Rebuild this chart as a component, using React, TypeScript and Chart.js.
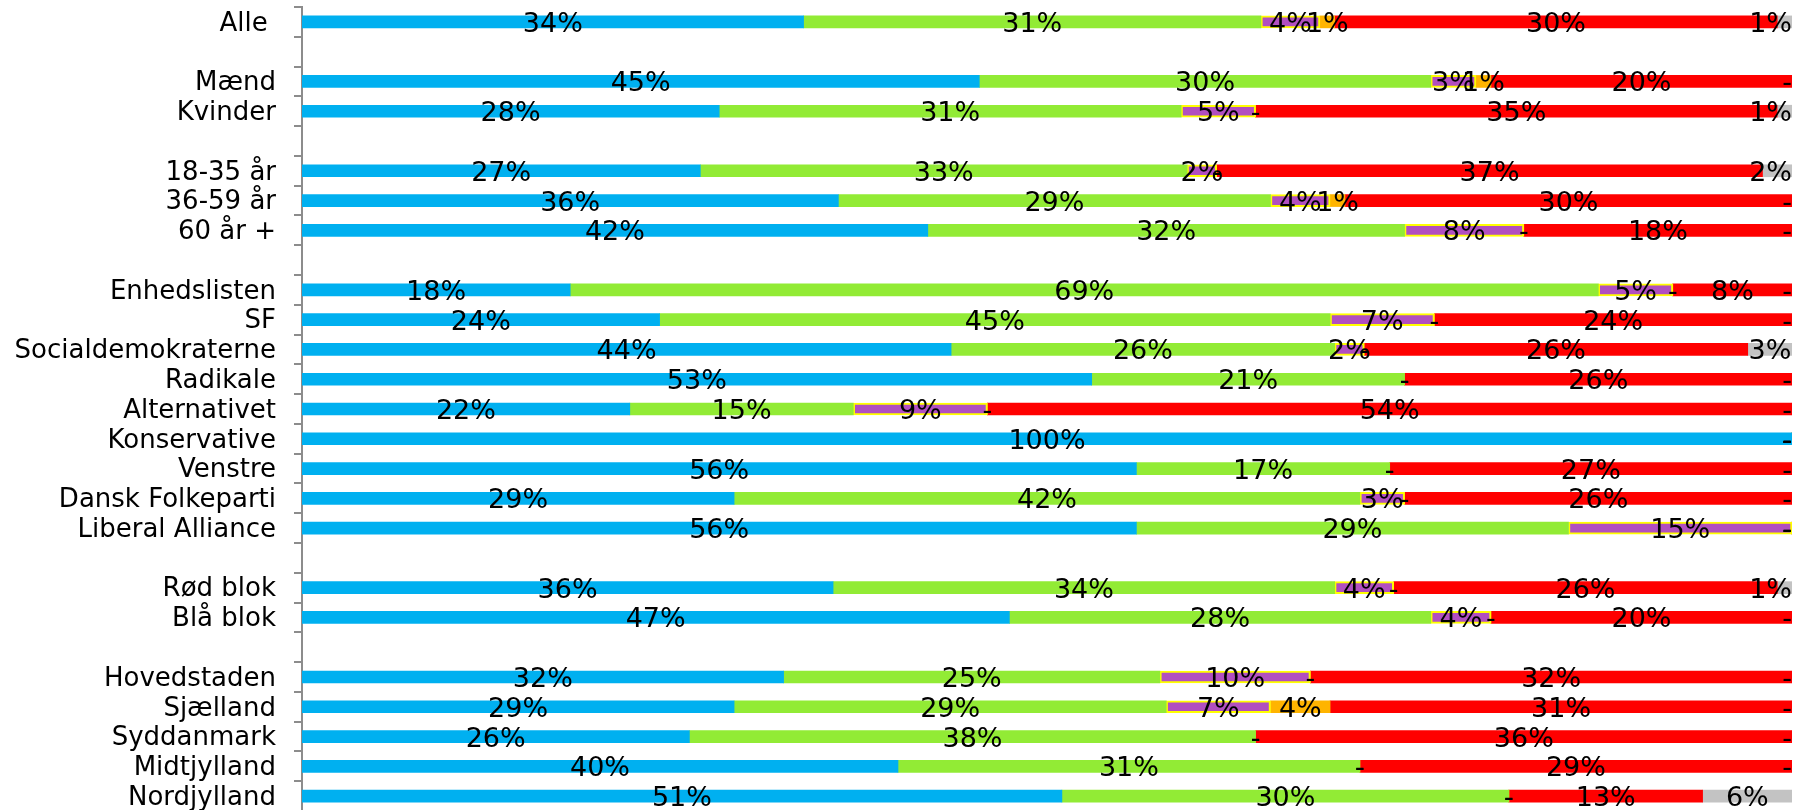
import React, { useEffect, useRef } from 'react';
import { Chart, registerables } from 'chart.js';

Chart.register(...registerables);

const categories = [
  'Alle ', '', 'Mænd', 'Kvinder', '', '18-35 år', '36-59 år', '60 år +', '',
  'Enhedslisten', 'SF', 'Socialdemokraterne', 'Radikale', 'Alternativet',
  'Konservative', 'Venstre', 'Dansk Folkeparti', 'Liberal Alliance', '',
  'Rød blok', 'Blå blok', '', 'Hovedstaden', 'Sjælland', 'Syddanmark',
  'Midtjylland', 'Nordjylland',
];

const seriesNames = ['Blå', 'Grøn', 'Lilla', 'Orange', 'Rød', 'Grå'];

const blueValues = [34, null, 45, 28, null, 27, 36, 42, null, 18, 24, 44, 53, 22, 100, 56, 29, 56, null, 36, 47, null, 32, 29, 26, 40, 51];
const greenValues = [31, null, 30, 31, null, 33, 29, 32, null, 69, 45, 26, 21, 15, 0, 17, 42, 29, null, 34, 28, null, 25, 29, 38, 31, 30];
const purpleValues = [4, null, 3, 5, null, 2, 4, 8, null, 5, 7, 2, 0, 9, 0, 0, 3, 15, null, 4, 4, null, 10, 7, 0, 0, 0];
const orangeValues = [1, null, 1, 0, null, 0, 1, 0, null, 0, 0, 0, 0, 0, 0, 0, 0, 0, null, 0, 0, null, 0, 4, 0, 0, 0];
const redValues = [30, null, 20, 35, null, 37, 30, 18, null, 8, 24, 26, 26, 54, 0, 27, 26, 0, null, 26, 20, null, 32, 31, 36, 29, 13];
const grayValues = [1, null, 0, 1, null, 2, 0, 0, null, 0, 0, 3, 0, 0, 0, 0, 0, 0, null, 1, 0, null, 0, 0, 0, 0, 6];

const seriesValues: (number | null)[][] = [blueValues, greenValues, purpleValues, orangeValues, redValues, grayValues];
const seriesColors = ['#00B0F0', '#92EB35', '#B14FC0', '#FFB400', '#FF0000', '#C3C3C3'];
const seriesBorders = [0, 0, 2, 0, 0, 0];

const FONT = '"DejaVu Sans", Verdana, sans-serif';

const labelPlugin = {
  id: 'segLabels',
  afterDatasetsDraw(chart: any) {
    const ctx = chart.ctx;
    const area = chart.chartArea;
    ctx.save();
    ctx.font = `27px ${FONT}`;
    ctx.fillStyle = '#000';
    ctx.textAlign = 'center';
    ctx.textBaseline = 'middle';
    chart.data.datasets.forEach((_ds: any, di: number) => {
      const meta = chart.getDatasetMeta(di);
      const raw = seriesValues[di];
      meta.data.forEach((el: any, i: number) => {
        const v = raw[i];
        if (v == null) return;
        const text = v === 0 ? '-' : `${v}%`;
        const p = el.getProps(['x', 'base', 'y'], true);
        let cx = (p.x + p.base) / 2;
        const w = ctx.measureText(text).width;
        if (cx + w / 2 > area.right) cx = area.right - w / 2;
        if (cx - w / 2 < area.left) cx = area.left + w / 2;
        ctx.fillText(text, cx, p.y + 3);
      });
    });
    ctx.restore();
  },
};

export default function App() {
  const ref = useRef<HTMLCanvasElement | null>(null);

  useEffect(() => {
    if (!ref.current) return;
    const totals = categories.map((_, i) =>
      seriesValues.reduce((s, arr) => s + (arr[i] ?? 0), 0)
    );
    const datasets = seriesValues.map((arr, di) => ({
      label: seriesNames[di],
      data: arr.map((v, i) => (v == null ? null : (v / totals[i]) * 100)),
      backgroundColor: seriesColors[di],
      borderColor: '#FFFF00',
      borderWidth: seriesBorders[di],
      borderSkipped: false,
      barThickness: 12,
    }));
    const chart = new Chart(ref.current, {
      type: 'bar',
      data: { labels: categories, datasets },
      plugins: [labelPlugin],
      options: {
        animation: false,
        responsive: false,
        devicePixelRatio: 1,
        indexAxis: 'y',
        layout: { padding: { top: 7, bottom: 7, left: 0, right: 16 } },
        plugins: { legend: { display: false }, tooltip: { enabled: false } },
        scales: {
          x: { stacked: true, min: 0, max: 100, display: false },
          y: {
            stacked: true,
            grid: {
              offset: true,
              drawOnChartArea: false,
              drawTicks: true,
              tickLength: 8,
              color: '#8C8C8C',
              lineWidth: 2,
            },
            border: { display: true, color: '#8C8C8C', width: 2 },
            ticks: {
              color: '#000',
              font: { family: FONT, size: 26 },
              padding: 18,
              labelOffset: 2,
              autoSkip: false,
            },
            afterFit: (s: any) => {
              s.width = 302;
              s.paddingTop = 0;
              s.paddingBottom = 0;
            },
          },
        },
      } as any,
    });
    return () => chart.destroy();
  }, []);

  return (
    <div
      style={{
        position: 'fixed',
        left: 0,
        top: 0,
        width: 1808,
        height: 810,
        overflow: 'hidden',
        background: '#fff',
      }}
    >
      <canvas ref={ref} width={1808} height={818} style={{ display: 'block' }} />
    </div>
  );
}
